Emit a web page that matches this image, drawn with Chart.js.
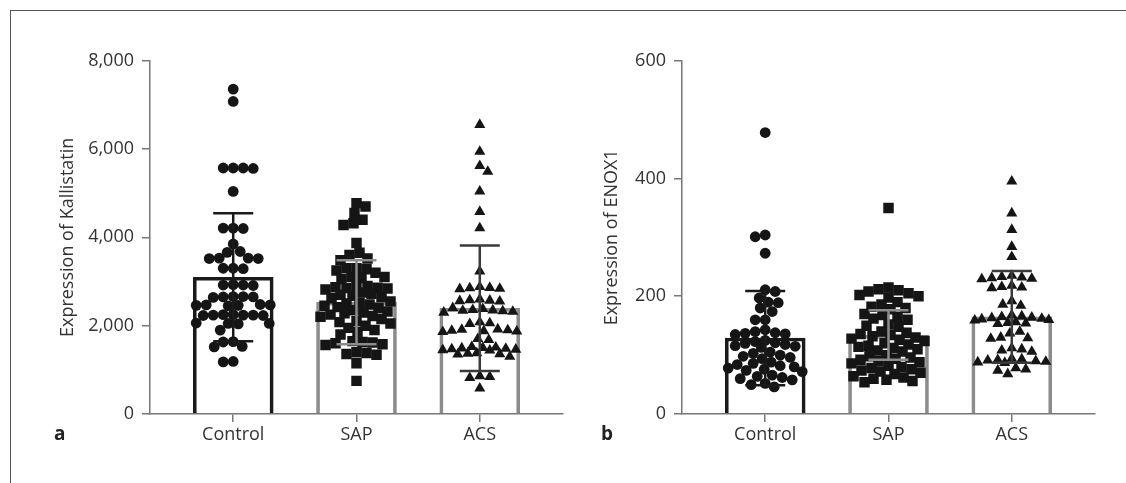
<!DOCTYPE html>
<html><head><meta charset="utf-8">
<script src="https://cdn.jsdelivr.net/npm/chart.js@4.4.1/dist/chart.umd.min.js"></script>
<style>
html,body{margin:0;padding:0;background:#fff;}
body{width:1126px;height:483px;position:relative;overflow:hidden;font-family:'Open Sans',sans-serif;}
#frameTop{position:absolute;left:10px;top:10px;width:1116px;height:0;border-top:1px solid #555;}
#frameLeft{position:absolute;left:10px;top:10px;width:0;height:473px;border-left:1px solid #555;}
canvas{position:absolute;top:0;}
.plabel{position:absolute;font-weight:bold;font-size:19px;color:#222;line-height:1;}
</style></head><body>
<div id="frameTop"></div><div id="frameLeft"></div>
<canvas id="cA" width="580" height="483" style="left:0px"></canvas>
<canvas id="cB" width="566" height="483" style="left:560px"></canvas>
<div class="plabel" style="left:54px;top:424px;">a</div>
<div class="plabel" style="left:601px;top:424px;">b</div>
<script>
// ---------- data ----------
const groups = ['Control', 'SAP', 'ACS'];

const kallistatinTicks = [0, 2000, 4000, 6000, 8000];
const kallistatinMean = [3097, 2531, 2395];
const kallistatinSD = [1450, 950, 1420];
const kallistatinControl = [7357, 7077, 5570, 5570, 5570, 5560, 5040, 4210, 4210, 4200, 3850, 3680, 3660,
  3530, 3530, 3520, 3520, 3300, 3300, 3290, 2930, 2920, 2920, 2910, 2660, 2660, 2650, 2650, 2640,
  2480, 2470, 2470, 2460, 2460, 2450, 2250, 2250, 2240, 2240, 2240, 2230, 2230, 2060, 2050, 2050, 2040,
  1900, 1640, 1630, 1530, 1520, 1190, 1180];
const kallistatinSAP = [4775, 4700, 4550, 4400, 4320, 4280, 3870, 3650, 3600, 3520, 3480,
  3300, 3300, 3280, 3250, 3200, 3100, 3100, 3080, 3050,
  2900, 2880, 2870, 2860, 2850, 2840, 2820, 2750, 2720, 2700, 2680, 2650, 2620,
  2550, 2520, 2500, 2480, 2450, 2420, 2400, 2350, 2320, 2300, 2280, 2250, 2220, 2200,
  2150, 2100, 2080, 2050, 2000, 1950, 1900, 1850, 1800,
  1650, 1630, 1620, 1600, 1580, 1560, 1400, 1380, 1360, 1340, 1150, 750];
const kallistatinACS = [6550, 5940, 5620, 5490, 5040, 4580, 4210, 3230,
  2880, 2860, 2850, 2840, 2830, 2600, 2580, 2570, 2560, 2550,
  2400, 2380, 2360, 2350, 2340, 2330, 2320, 2300, 2080, 2060, 2040,
  1920, 1910, 1900, 1890, 1880, 1870, 1860, 1700, 1680,
  1520, 1510, 1500, 1490, 1480, 1470, 1460, 1450, 1440, 1380, 1370, 1360, 1350, 1300,
  860, 840, 820, 580];

const enox1Ticks = [0, 200, 400, 600];
const enox1Mean = [129, 134, 165];
const enox1SD = [80, 42, 78];
const enox1Control = [478, 304, 301, 273, 211, 208, 197, 190, 189, 180, 174, 160, 160,
  143, 140, 138, 137, 136, 135, 125, 123, 121, 120, 118, 116, 115, 113,
  105, 103, 100, 98, 96, 94, 88, 86, 84, 82, 80, 78, 76, 74, 72,
  66, 64, 62, 60, 58, 52, 50, 46];
const enox1SAP = [350, 215, 212, 210, 208, 205, 202, 200, 198, 190, 186, 182, 180, 178,
  170, 168, 165, 162, 160, 152, 150, 148,
  140, 138, 136, 134, 132, 130, 128, 126, 124, 120, 118, 116, 114, 112, 110, 108, 106,
  100, 98, 96, 94, 92, 90, 88, 86, 82, 80, 78, 76, 74, 72, 70, 68,
  64, 62, 60, 58, 56, 54];
const enox1ACS = [395, 341, 313, 284, 267, 235, 233, 232, 231, 230, 229, 218, 216, 215, 214,
  192, 186, 184, 168, 166, 165, 164, 163, 162, 161, 160, 159, 156, 155, 154, 153,
  140, 137, 130, 129, 128, 112, 110, 108, 106, 94, 93, 92, 91, 90, 89, 88, 87,
  78, 76, 74, 68];

// ---------- styling ----------
const FONT = "'Open Sans', sans-serif";
Chart.defaults.font.family = FONT;
const AXIS = '#777';
const TXT = '#333';
const FS = 18;
const barColors = ['#1a1a1a', '#8c8c8c', '#8c8c8c'];
const errColors = ['#1a1a1a', '#8c8c8c', '#3a3a3a'];
const markers = [
  {style: 'circle', r: 5.4},
  {style: 'rect', r: 7.4},
  {style: 'triangle', r: 6.4}
];

const errorBarPlugin = {
  id: 'errbars',
  afterDatasetsDraw(chart, args, opts) {
    const {ctx} = chart;
    const x = chart.scales.x, y = chart.scales.y;
    opts.means.forEach((m, i) => {
      const cx = x.getPixelForValue(i);
      const top = y.getPixelForValue(m + opts.sds[i]);
      const bot = y.getPixelForValue(m - opts.sds[i]);
      ctx.save();
      ctx.strokeStyle = opts.colors[i];
      ctx.lineWidth = 2.5;
      ctx.beginPath();
      ctx.moveTo(cx, top); ctx.lineTo(cx, bot);
      ctx.moveTo(cx - 20, top); ctx.lineTo(cx + 20, top);
      ctx.moveTo(cx - 20, bot); ctx.lineTo(cx + 20, bot);
      ctx.stroke();
      ctx.restore();
    });
  }
};

function makeChart(id, cfg) {
  const datasets = [{
    type: 'bar',
    data: groups.map((g, i) => ({x: i, y: cfg.means[i]})),
    backgroundColor: 'rgba(0,0,0,0)',
    borderColor: barColors,
    borderWidth: 3,
    borderSkipped: 'bottom',
    barThickness: 80,
    order: 3
  }];
  cfg.values.forEach((vals, gi) => {
    datasets.push({
      type: 'scatter',
      data: vals.map(v => ({x: gi, y: v})),
      pointStyle: markers[gi].style,
      pointRadius: markers[gi].r,
      pointHoverRadius: markers[gi].r,
      backgroundColor: '#151515',
      borderWidth: 0,
      showLine: false,
      order: 1
    });
  });
  const chart = new Chart(document.getElementById(id), {
    type: 'bar',
    data: {datasets},
    options: {
      responsive: false,
      animation: false,
      events: [],
      layout: {padding: {left: 0, top: 60.7, right: cfg.padRight, bottom: 0}},
      plugins: {
        legend: {display: false},
        tooltip: {enabled: false},
        errbars: {means: cfg.means, sds: cfg.sds, colors: errColors}
      },
      scales: {
        x: {
          type: 'linear', min: -0.675, max: 2.675, offset: false,
          afterBuildTicks: s => { s.ticks = groups.map((g, i) => ({value: i})); },
          ticks: {color: TXT, font: {size: FS}, padding: 2, autoSkip: false, maxRotation: 0,
                  callback: v => groups[v]},
          grid: {offset: false, drawOnChartArea: false, drawTicks: true, tickLength: 8, color: AXIS, lineWidth: 1.5},
          border: {display: true, color: AXIS, width: 1.5},
          afterFit: s => { s.height = 69; }
        },
        y: {
          min: 0, max: cfg.ticks[cfg.ticks.length - 1],
          afterBuildTicks: s => { s.ticks = cfg.ticks.map(v => ({value: v})); },
          ticks: {color: TXT, font: {size: FS}, padding: 8,
                  callback: v => v.toLocaleString('en-US')},
          grid: {drawOnChartArea: false, drawTicks: true, tickLength: 8, color: AXIS, lineWidth: 1.5},
          border: {display: true, color: AXIS, width: 1.5},
          title: {display: true, text: cfg.title, color: TXT, font: {size: FS},
                  padding: {top: cfg.titlePad, bottom: 0}},
          afterFit: s => { s.width = cfg.yWidth; }
        }
      }
    },
    plugins: [errorBarPlugin]
  });
  applySwarm(chart, cfg.values, 9.5, 10, 37);
  return chart;
}

// beeswarm placement computed through the chart's own scales,
// limited to the column width (points may overlap when crowded)
function applySwarm(chart, groupValues, dX, dY, maxW) {
  const xs = chart.scales.x, ys = chart.scales.y;
  groupValues.forEach((vals, gi) => {
    const cx = xs.getPixelForValue(gi);
    const pts = vals.map(v => ({v, py: ys.getPixelForValue(v), dx: 0}));
    const order = pts.slice().sort((a, b) => b.v - a.v);
    const placed = [];
    order.forEach(p => {
      let best = null, bestScore = -1, bestC = 0;
      for (let k = 0; k <= maxW && best === null; k++) {
        const cands = k === 0 ? [0] : (placed.length % 2 ? [k, -k] : [-k, k]);
        for (const c of cands) {
          let score = Infinity;
          for (const q of placed) {
            const s = ((q.dx - c) / dX) ** 2 + ((q.py - p.py) / dY) ** 2;
            if (s < score) score = s;
          }
          if (score >= 1) { best = c; break; }
          if (score > bestScore + 1e-6) { bestScore = score; bestC = c; }
        }
      }
      p.dx = best === null ? bestC : best;
      placed.push(p);
    });
    chart.data.datasets[gi + 1].data = pts.map(p => ({x: xs.getValueForPixel(cx + p.dx), y: p.v}));
  });
  chart.update('none');
}

makeChart('cA', {
  values: [kallistatinControl, kallistatinSAP, kallistatinACS],
  means: kallistatinMean, sds: kallistatinSD, ticks: kallistatinTicks,
  title: 'Expression of Kallistatin', titlePad: 57, yWidth: 150, padRight: 17
});
makeChart('cB', {
  values: [enox1Control, enox1SAP, enox1ACS],
  means: enox1Mean, sds: enox1SD, ticks: enox1Ticks,
  title: 'Expression of ENOX1', titlePad: 41, yWidth: 122, padRight: 31
});
</script>
</body></html>
